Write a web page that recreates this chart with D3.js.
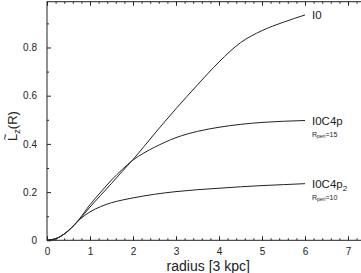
<!DOCTYPE html>
<html><head><meta charset="utf-8">
<script src="https://cdn.jsdelivr.net/npm/d3@7"></script>
<style>html,body{margin:0;padding:0;background:#fff}svg{display:block}</style>
</head><body>
<script>
const radius = [0,0.25,0.5,0.75,1,1.25,1.5,1.75,2,2.25,2.5,3,3.5,4,4.5,5,5.5,6];
const seriesIO    = [0,0.01,0.04,0.085,0.138,0.187,0.236,0.286,0.335,0.388,0.442,0.546,0.645,0.74,0.82,0.87,0.905,0.935];
const seriesIOC4p = [0,0.01,0.041,0.088,0.148,0.2,0.25,0.294,0.333,0.362,0.386,0.426,0.452,0.469,0.481,0.489,0.494,0.497];
const seriesIOC4p2= [0,0.01,0.04,0.085,0.118,0.14,0.156,0.167,0.176,0.184,0.191,0.202,0.21,0.216,0.222,0.227,0.231,0.235];
const seriesNames = ["I0","I0C4p","I0C4p"];
const periLabels = [null,"15","10"];
const xTicks = [0,1,2,3,4,5,6,7];
const yTicks = [0,0.2,0.4,0.6,0.8];
const yTickLabels = ["0","0.2","0.4","0.6","0.8"];

const W=361,H=273;
const svg=d3.select("body").append("svg").attr("width",W).attr("height",H);
const x=d3.scaleLinear().domain([0,7.5]).range([47,369.5]);
const y=d3.scaleLinear().domain([0,0.99]).range([240.3,1.7]);
const col="#222";
const font="Liberation Sans, Arial, sans-serif";

// frame
svg.append("rect").attr("x",x(0)).attr("y",y(0.99)).attr("width",x(7.5)-x(0)).attr("height",y(0)-y(0.99))
  .attr("fill","none").attr("stroke",col).attr("stroke-width",1);

const xMinor=d3.range(0,7.5,0.2).map(v=>+v.toFixed(2)).filter(v=>Math.abs(v-Math.round(v))>1e-6);
const yMinor=d3.range(0.1,0.99,0.2).map(v=>+v.toFixed(2));

function styleAxis(g){g.select(".domain").remove();g.selectAll(".tick line").attr("stroke",col);
  g.selectAll("text").attr("fill",col).style("font-family",font).style("font-size","10px");}

svg.append("g").attr("transform",`translate(0,${y(0)})`)
  .call(d3.axisBottom(x).tickValues(xTicks).tickSize(-4).tickPadding(8).tickFormat(d3.format("d"))).call(styleAxis);
svg.append("g").attr("transform",`translate(0,${y(0)})`)
  .call(d3.axisBottom(x).tickValues(xMinor).tickSize(-2).tickFormat("")).call(styleAxis);
svg.append("g").attr("transform",`translate(0,${y(0.99)})`)
  .call(d3.axisTop(x).tickValues(xTicks).tickSize(-4).tickFormat("")).call(styleAxis);
svg.append("g").attr("transform",`translate(0,${y(0.99)})`)
  .call(d3.axisTop(x).tickValues(xMinor).tickSize(-2).tickFormat("")).call(styleAxis);
svg.append("g").attr("transform",`translate(${x(0)},0)`)
  .call(d3.axisLeft(y).tickValues(yTicks).tickSize(-4).tickPadding(10).tickFormat((d,i)=>yTickLabels[i])).call(styleAxis);
svg.append("g").attr("transform",`translate(${x(0)},0)`)
  .call(d3.axisLeft(y).tickValues(yMinor).tickSize(-2).tickFormat("")).call(styleAxis);

// curves
const line=d3.line().x(d=>x(d[0])).y(d=>y(d[1])).curve(d3.curveMonotoneX);
const all=[seriesIO,seriesIOC4p,seriesIOC4p2];
all.forEach(s=>{
  svg.append("path").datum(radius.map((r,i)=>[r,s[i]])).attr("d",line)
    .attr("fill","none").attr("stroke",col).attr("stroke-width",1);
});

// labels
const lx=x(6)+7;
all.forEach((s,i)=>{
  const yy=y(s[s.length-1])+4;
  const t=svg.append("text").attr("x",lx).attr("y",yy).attr("fill",col)
    .style("font-family",font).style("font-size","11.5px").text(seriesNames[i]);
  if(i===2) t.append("tspan").attr("dy",3).style("font-size","8px").text("2");
  if(periLabels[i]){
    const p=svg.append("text").attr("x",lx).attr("y",yy+12).attr("fill",col)
      .style("font-family",font).style("font-size","7px").text("R");
    p.append("tspan").attr("dy",1.5).style("font-size","5px").text("peri");
    p.append("tspan").attr("dy",-1.5).text("="+periLabels[i]);
  }
});

// axis titles
svg.append("text").attr("x",(x(0)+x(7.5))/2).attr("y",271).attr("text-anchor","middle").attr("fill",col)
  .style("font-family",font).style("font-size","14px").text("radius [3 kpc]");
const yl=svg.append("text").attr("transform","translate(17,126) rotate(-90)").attr("text-anchor","middle").attr("fill",col)
  .style("font-family",font).style("font-size","13px");
yl.append("tspan").text("L");
yl.append("tspan").attr("dy",3).style("font-size","9px").text("z");
yl.append("tspan").attr("dy",-3).text("(R)");
svg.append("text").attr("transform","translate(9,137) rotate(-90)").attr("text-anchor","middle").attr("fill",col)
  .style("font-family",font).style("font-size","11px").text("~");
</script>
</body></html>
